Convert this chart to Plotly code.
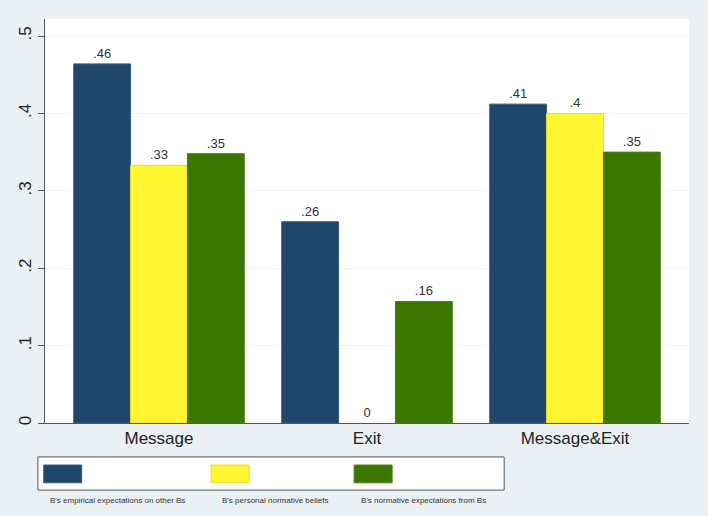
import plotly.graph_objects as go

categories = ["Message", "Exit", "Message&Exit"]
series_names = [
    "B's empirical expectations on other Bs",
    "B's personal normative beliefs",
    "B's normative expectations from Bs",
]
empirical = [0.464, 0.26, 0.412]
personal = [0.333, 0.0, 0.40]
normative = [0.348, 0.157, 0.35]
bar_labels = [[".46", ".26", ".41"], [".33", "0", ".4"], [".35", ".16", ".35"]]
ytick_vals = [0, 0.1, 0.2, 0.3, 0.4, 0.5]
ytick_text = ["0", ".1", ".2", ".3", ".4", ".5"]

colors = ["#1F476C", "#FFF530", "#3B7700"]
edge = ["#3A5A7A", "#E8DC30", "#4A8010"]
series = [empirical, personal, normative]

fig = go.Figure()
for name, vals, lab, c, e in zip(series_names, series, bar_labels, colors, edge):
    fig.add_trace(go.Bar(
        x=categories, y=vals, name=name,
        marker=dict(color=c, line=dict(color=e, width=[1 if v > 0 else 0 for v in vals])),
        text=lab, textposition="outside", cliponaxis=False,
        textfont=dict(family="Liberation Sans, Arial", size=13, color="#333333"),
        showlegend=False, hoverinfo="x+y+name",
    ))

fig.update_layout(
    width=708, height=516,
    barmode="group", bargap=0.18, bargroupgap=0,
    paper_bgcolor="#EAF0F3", plot_bgcolor="#FFFFFF",
    margin=dict(l=45, r=19, t=19, b=93, autoexpand=False),
    font=dict(family="Liberation Sans, Arial", color="#222222"),
)
fig.update_xaxes(
    range=[-0.548, 2.548], showgrid=False, showline=True, linecolor="#555555",
    linewidth=1, ticks="", tickfont=dict(size=17, color="#222222"),
    automargin=False,
)
fig.update_yaxes(
    range=[0, 0.522], tickvals=ytick_vals, ticktext=ytick_text, tickangle=-90,
    showgrid=True, gridcolor="#EEF3F5", gridwidth=1, zeroline=False,
    showline=True, linecolor="#555555", linewidth=1,
    ticks="outside", ticklen=6, tickcolor="#555555",
    tickfont=dict(size=17, color="#222222"), automargin=False,
)

# Legend (Stata style: swatches in a box, labels underneath)
fig.add_shape(type="rect", xref="paper", yref="paper",
              x0=-0.011, x1=0.713, y0=-0.166, y1=-0.084,
              fillcolor="#FFFFFF", line=dict(color="#555555", width=1))
sw_x = [-0.002, 0.258, 0.480]
lab_x = [0.005, 0.272, 0.488]
for sx, lx, c, e, name in zip(sw_x, lab_x, colors, edge, series_names):
    fig.add_shape(type="rect", xref="paper", yref="paper",
                  x0=sx, x1=sx + 0.059, y0=-0.148, y1=-0.104,
                  fillcolor=c, line=dict(color=e, width=1))
    fig.add_annotation(xref="paper", yref="paper", x=lx, y=-0.193,
                       text=name, showarrow=False, xanchor="left", yanchor="middle",
                       font=dict(family="Liberation Sans, Arial", size=8, color="#333333"))

fig.write_html(
    "out.html",
    config={"displayModeBar": False},
    post_script="document.body.style.margin='0';document.body.style.overflow='hidden';",
)
